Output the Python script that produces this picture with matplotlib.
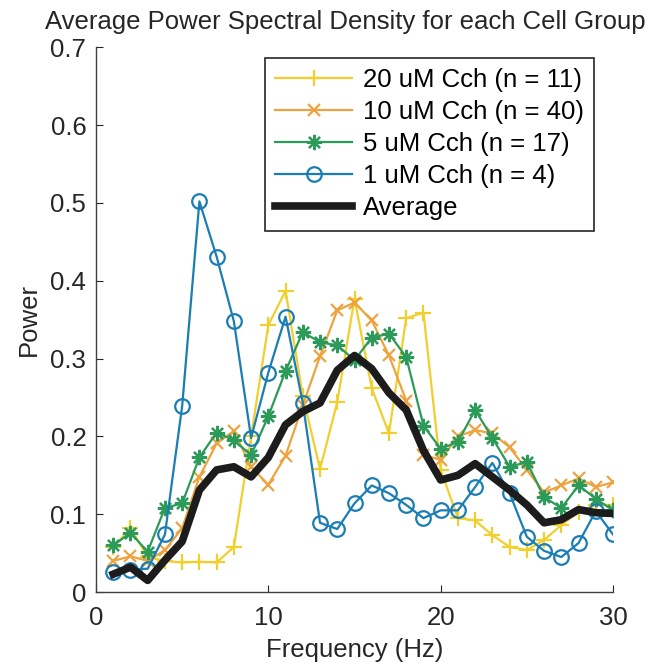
import numpy as np
import matplotlib
matplotlib.use("Agg")
import matplotlib.pyplot as plt

plt.rcParams['font.family'] = ['Liberation Sans', 'DejaVu Sans']

freq = np.arange(1, 31)

# 20 uM Cch (n = 11)
cch20 = [0.058, 0.082, 0.045, 0.040, 0.038, 0.039, 0.038, 0.058, 0.200, 0.343,
         0.387, 0.252, 0.158, 0.244, 0.377, 0.262, 0.204, 0.352, 0.359, 0.157,
         0.095, 0.092, 0.073, 0.058, 0.054, 0.067, 0.086, 0.103, 0.112, 0.112]
# 10 uM Cch (n = 40)
cch10 = [0.040, 0.046, 0.040, 0.054, 0.082, 0.148, 0.191, 0.207, 0.161, 0.138,
         0.175, 0.240, 0.303, 0.362, 0.372, 0.349, 0.304, 0.246, 0.176, 0.170,
         0.200, 0.208, 0.204, 0.186, 0.157, 0.128, 0.137, 0.146, 0.135, 0.141]
# 5 uM Cch (n = 17)
cch5 = [0.060, 0.076, 0.052, 0.108, 0.114, 0.173, 0.205, 0.195, 0.176, 0.226,
        0.284, 0.334, 0.321, 0.317, 0.298, 0.327, 0.332, 0.302, 0.214, 0.184,
        0.193, 0.234, 0.198, 0.161, 0.167, 0.122, 0.108, 0.137, 0.120, 0.105]
# 1 uM Cch (n = 4)
cch1 = [0.026, 0.029, 0.030, 0.074, 0.239, 0.502, 0.431, 0.348, 0.198, 0.282,
        0.354, 0.243, 0.089, 0.081, 0.114, 0.137, 0.127, 0.112, 0.095, 0.105,
        0.105, 0.135, 0.166, 0.127, 0.071, 0.053, 0.045, 0.063, 0.104, 0.074]
# Average
avg = [0.023, 0.032, 0.015, 0.041, 0.065, 0.131, 0.157, 0.161, 0.148, 0.173,
       0.215, 0.232, 0.243, 0.285, 0.304, 0.287, 0.256, 0.234, 0.182, 0.144,
       0.150, 0.165, 0.148, 0.131, 0.112, 0.089, 0.093, 0.106, 0.102, 0.101]

labels = ['20 uM Cch (n = 11)', '10 uM Cch (n = 40)',
          '5 uM Cch (n = 17)', '1 uM Cch (n = 4)', 'Average']

fig = plt.figure(figsize=(6.62, 6.66), dpi=100)
ax = fig.add_axes([0.145, 0.111, 0.781, 0.818])

lw = 1.6
ax.plot(freq, cch20, color='#F0CF2E', lw=lw, marker='+', ms=12, mew=1.6, label=labels[0])
ax.plot(freq, cch10, color='#EDA33F', lw=lw, marker='x', ms=9, mew=1.6, label=labels[1])
ax.plot(freq, cch5, color='#2C9A58', lw=lw, marker=(8, 2, 0), ms=11, mew=1.6, label=labels[2])
ax.plot(freq, cch1, color='#1A7DB4', lw=lw, marker='o', ms=10.5, mew=1.6,
        mfc='none', label=labels[3])
ax.plot(freq, avg, color='#1c1c1c', lw=5.5, label=labels[4])

ax.set_xlim(0, 30)
ax.set_ylim(0, 0.7)
ax.set_xticks([0, 10, 20, 30])
ax.set_yticks(np.arange(0, 0.71, 0.1))
ax.set_yticklabels(['0', '0.1', '0.2', '0.3', '0.4', '0.5', '0.6', '0.7'])
ax.tick_params(direction='in', labelsize=18.5, length=5, colors='#262626')
ax.tick_params(axis='y', pad=7)
ax.tick_params(axis='x', pad=10)
for s in ['top', 'right']:
    ax.spines[s].set_visible(False)
for s in ['left', 'bottom']:
    ax.spines[s].set_color('#404040')
    ax.spines[s].set_linewidth(1.0)

ax.set_xlabel('Frequency (Hz)', fontsize=18.5, color='#262626', labelpad=6)
ax.set_ylabel('Power', fontsize=18.5, color='#262626', labelpad=7)
fig.text(0.521, 0.957, 'Average Power Spectral Density for each Cell Group',
         ha='center', va='baseline', fontsize=18.5, color='#262626')

leg = ax.legend(loc='upper left', bbox_to_anchor=(0.327, 0.98), fontsize=18.5,
                handlelength=3.0, labelspacing=0.31, borderpad=0.4,
                handletextpad=0.4, borderaxespad=0, fancybox=False, framealpha=1)
leg.get_frame().set_edgecolor('#262626')
leg.get_frame().set_linewidth(1.2)

fig.savefig('out.png', dpi=100)
